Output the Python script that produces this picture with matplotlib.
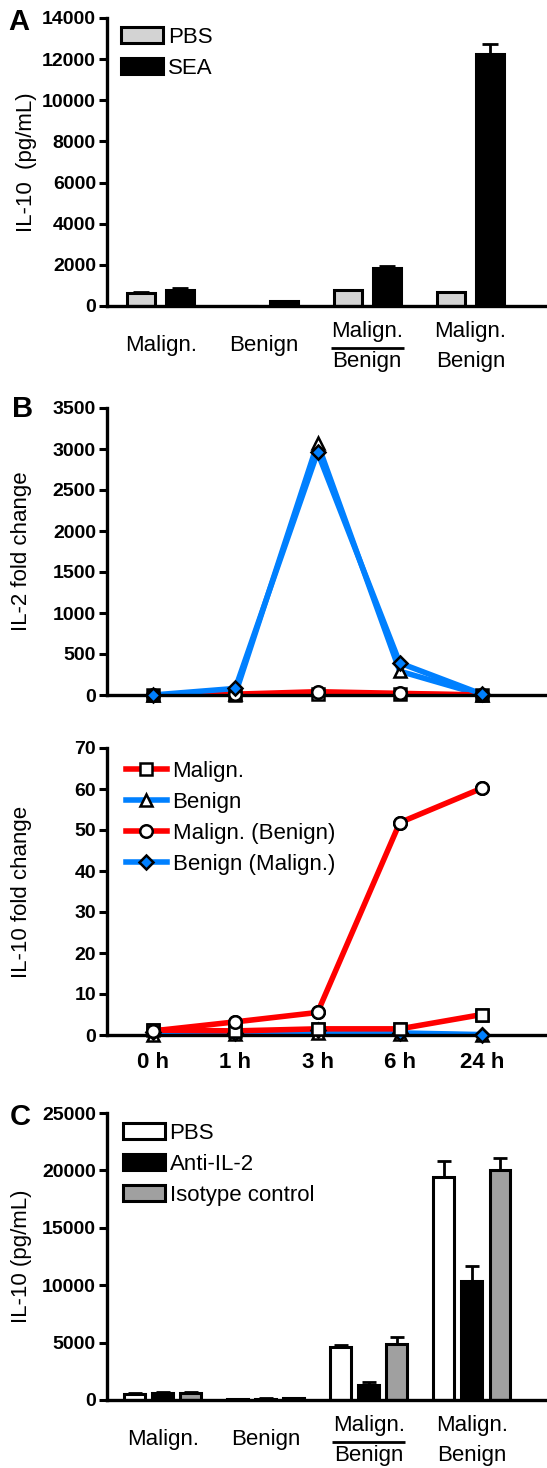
"""Three-panel figure: IL-10 / IL-2 responses (bars and time course)."""

import numpy as np
import matplotlib
matplotlib.use("Agg")
import matplotlib.pyplot as plt
from matplotlib.transforms import blended_transform_factory

plt.rcParams['font.family'] = ['Liberation Sans', 'DejaVu Sans']

# ---- data -------------------------------------------------------------
categories = ['Malign.', 'Benign', 'Malign./Benign', 'Malign. Benign']

# Panel A: IL-10 (pg/mL)
a_pbs = [620, 15, 760, 670]
a_pbs_err = [40, 0, 40, 30]
a_sea = [800, 260, 1870, 12250]
a_sea_err = [60, 0, 80, 500]

# Panel B: fold change over time
timepoints = ['0 h', '1 h', '3 h', '6 h', '24 h']
il2_malign = [0, 5, 10, 10, 0]
il2_benign = [0, 10, 3070, 290, 0]
il2_malign_benign = [0, 10, 40, 20, 0]
il2_benign_malign = [0, 80, 2960, 390, 10]

il10_malign = [1.2, 1.0, 1.5, 1.5, 5.0]
il10_benign = [0, 0.3, 0.5, 0.2, 0]
il10_malign_benign = [1.0, 3.2, 5.5, 51.8, 60.2]
il10_benign_malign = [0.8, 0.6, 1.2, 0.5, 0.1]

# Panel C: IL-10 (pg/mL) with IL-2 blocking
c_pbs = [560, 100, 4630, 19400]
c_pbs_err = [60, 20, 200, 1400]
c_anti = [620, 130, 1330, 10400]
c_anti_err = [50, 20, 250, 1300]
c_iso = [640, 180, 4900, 20000]
c_iso_err = [80, 30, 600, 1100]

RED = '#FF0000'
BLUE = '#0080FF'
W, H = 547, 1468


def axes_rect(top_px, bottom_px, left_px=107, right_px=547):
    return [left_px / W, 1 - bottom_px / H, (right_px - left_px) / W, (bottom_px - top_px) / H]


def style_axes(ax):
    for s in ['top', 'right']:
        ax.spines[s].set_visible(False)
    for s in ['left', 'bottom']:
        ax.spines[s].set_linewidth(2.4)
    ax.tick_params(axis='y', direction='out', length=6, width=2.2, pad=2, labelsize=14)
    ax.tick_params(axis='x', length=0)
    for lab in ax.get_yticklabels():
        lab.set_fontweight('bold')


def add_category_labels(ax, labels):
    trans = blended_transform_factory(ax.transData, ax.transAxes)
    kw = dict(xycoords=trans, textcoords='offset pixels', ha='center', va='center', fontsize=16)
    for i, lab in enumerate(labels):
        if '/' in lab or ' ' in lab:
            top, bottom = lab.replace('/', ' ').split(' ')
            ax.annotate(top, (i, 0), xytext=(0, -25), **kw)
            ax.annotate(bottom, (i, 0), xytext=(0, -55), **kw)
        else:
            ax.annotate(lab, (i, 0), xytext=(0, -39), **kw)
        if '/' in lab:
            # fraction bar between the two lines
            y = -42 / (ax.get_position().height * H)
            ax.plot([i - 0.355, i + 0.355], [y, y], transform=trans, color='black', lw=2.0,
                    clip_on=False, solid_capstyle='butt')
    ax.set_xticks([])


fig = plt.figure(figsize=(W / 100, H / 100), dpi=100)

# ---- Panel A ----------------------------------------------------------
axA = fig.add_axes(axes_rect(18, 306))
x = np.arange(len(categories))
bw = 0.27
axA.bar(x - 0.19, a_pbs, bw, color='#D3D3D3', edgecolor='black', lw=2.2, label='PBS')
axA.bar(x + 0.19, a_sea, bw, color='black', edgecolor='black', lw=2.2, label='SEA')
axA.errorbar(x - 0.19, a_pbs, yerr=[np.zeros(4), a_pbs_err], fmt='none', ecolor='black',
             elinewidth=2, capsize=6, capthick=2)
axA.errorbar(x + 0.19, a_sea, yerr=[np.zeros(4), a_sea_err], fmt='none', ecolor='black',
             elinewidth=2, capsize=6, capthick=2)
axA.set_xlim(-0.52, 3.74)
axA.set_ylim(0, 14000)
axA.set_yticks(np.arange(0, 14001, 2000))
axA.set_ylabel('IL-10  (pg/mL)', fontsize=16)
axA.yaxis.set_label_coords(-0.16, 0.5)
style_axes(axA)
add_category_labels(axA, categories)
axA.legend(loc='upper left', bbox_to_anchor=(0.032, 0.97), frameon=False, fontsize=16,
           handlelength=1.9, handleheight=0.75, handletextpad=0.2, labelspacing=0.45,
           borderpad=0, borderaxespad=0)
fig.text(8 / W, 1 - 22 / H, 'A', fontsize=21, fontweight='bold', va='center')

# ---- Panel B (IL-2) ---------------------------------------------------
t = np.arange(len(timepoints))
series_style = [
    ('Malign.', RED, 's', 'white'),
    ('Benign', BLUE, '^', 'white'),
    ('Malign. (Benign)', RED, 'o', 'white'),
    ('Benign (Malign.)', BLUE, 'D', BLUE),
]
LW = 4


def msize(mk):
    return 7.5 if mk == 'D' else 9


axB1 = fig.add_axes(axes_rect(408, 695))
il2 = [il2_malign, il2_benign, il2_malign_benign, il2_benign_malign]
for (name, col, mk, fc), vals in zip(series_style, il2):
    axB1.plot(t, vals, color=col, lw=LW, zorder=2)
    axB1.plot(t, vals, ls='none', marker=mk, ms=msize(mk), mfc=fc, mec='black',
              mew=1.8, clip_on=False, zorder=4)
axB1.set_xlim(-0.56, 4.79)
axB1.set_ylim(0, 3500)
axB1.set_yticks(np.arange(0, 3501, 500))
axB1.set_ylabel('IL-2 fold change', fontsize=16)
axB1.yaxis.set_label_coords(-0.17, 0.5)
style_axes(axB1)
axB1.set_xticks([])
fig.text(12 / W, 1 - 409 / H, 'B', fontsize=21, fontweight='bold', va='center')

# ---- Panel B (IL-10) --------------------------------------------------
axB2 = fig.add_axes(axes_rect(748, 1035))
il10 = [il10_malign, il10_benign, il10_malign_benign, il10_benign_malign]
order = [1, 3, 0, 2]
handles = {}
for k in order:
    name, col, mk, fc = series_style[k]
    h, = axB2.plot(t, il10[k], color=col, lw=LW, marker=mk, ms=msize(mk),
                   mfc=fc, mec='black', mew=1.8, zorder=2)
    axB2.plot(t, il10[k], ls='none', marker=mk, ms=msize(mk), mfc=fc,
              mec='black', mew=1.8, clip_on=False, zorder=4)
    handles[k] = h
axB2.set_xlim(-0.56, 4.79)
axB2.set_ylim(0, 70)
axB2.set_yticks(np.arange(0, 71, 10))
axB2.set_ylabel('IL-10 fold change', fontsize=16)
axB2.yaxis.set_label_coords(-0.17, 0.5)
style_axes(axB2)
axB2.set_xticks(t)
axB2.set_xticklabels(timepoints, fontsize=16, fontweight='bold')
axB2.tick_params(axis='x', length=0, pad=12)
axB2.legend([handles[k] for k in range(4)], [s[0] for s in series_style], loc='upper left',
            bbox_to_anchor=(0.043, 0.955), frameon=False, fontsize=16, handlelength=1.85,
            handletextpad=0.25, labelspacing=0.45, borderpad=0, borderaxespad=0)

# ---- Panel C ----------------------------------------------------------
axC = fig.add_axes(axes_rect(1113, 1400))
bw = 0.2
off = 0.272
for dx, vals, errs, col, name in [(-off, c_pbs, c_pbs_err, 'white', 'PBS'),
                                   (0, c_anti, c_anti_err, 'black', 'Anti-IL-2'),
                                   (off, c_iso, c_iso_err, '#A0A0A0', 'Isotype control')]:
    axC.bar(x + dx, vals, bw, color=col, edgecolor='black', lw=2.2, label=name)
    axC.errorbar(x + dx, vals, yerr=[np.zeros(4), errs], fmt='none', ecolor='black',
                 elinewidth=2, capsize=5, capthick=2)
axC.set_xlim(-0.54, 3.73)
axC.set_ylim(0, 25000)
axC.set_yticks(np.arange(0, 25001, 5000))
axC.set_ylabel('IL-10 (pg/mL)', fontsize=16)
axC.yaxis.set_label_coords(-0.17, 0.5)
style_axes(axC)
add_category_labels(axC, categories)
axC.legend(loc='upper left', bbox_to_anchor=(0.036, 0.966), frameon=False, fontsize=16,
           handlelength=1.9, handleheight=0.75, handletextpad=0.2, labelspacing=0.45,
           borderpad=0, borderaxespad=0)
fig.text(10 / W, 1 - 1117 / H, 'C', fontsize=21, fontweight='bold', va='center')

fig.savefig('out.png', dpi=100)
